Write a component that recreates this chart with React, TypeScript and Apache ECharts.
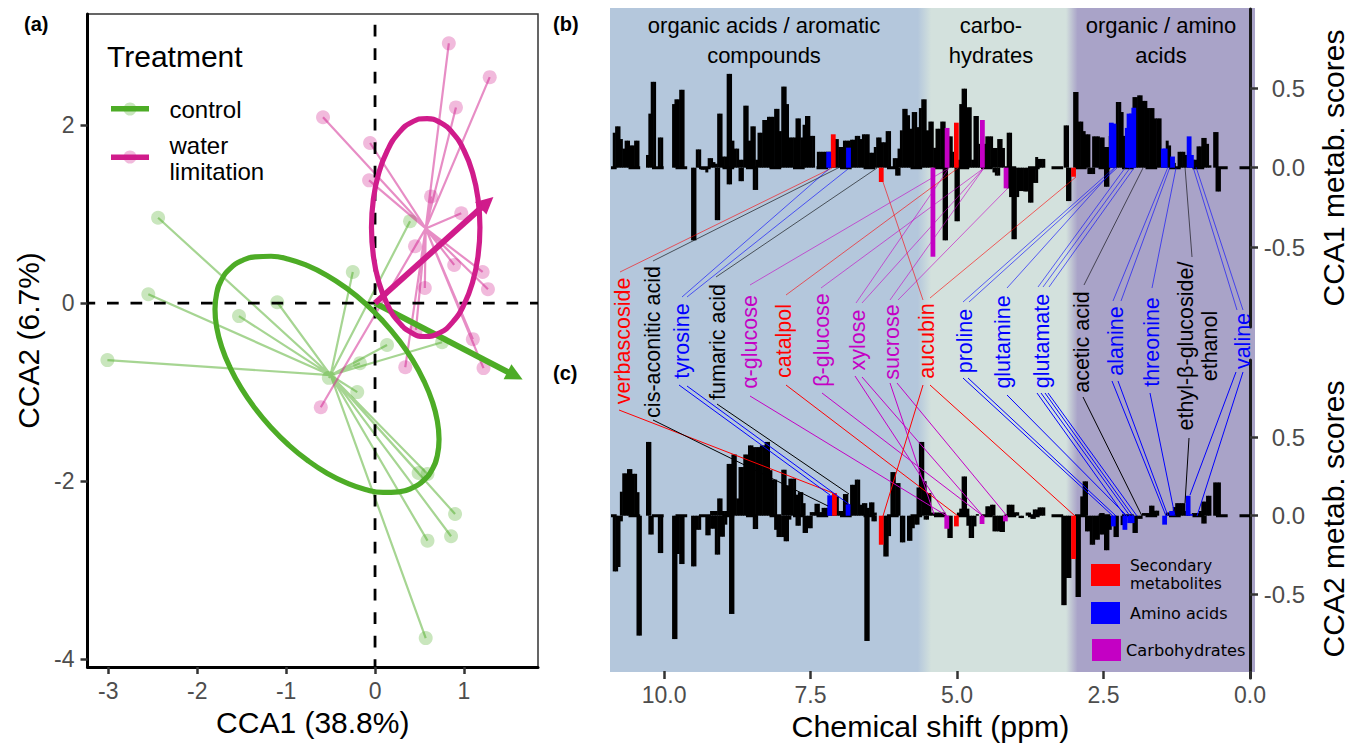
import React, { useEffect, useRef } from "react";
import * as echarts from "echarts";

const SANS = "'Liberation Sans', Arial, sans-serif";
const GREEN = "#4DAC26";
const PINK = "#D01C8B";
const RED = "#ff0000";
const BLUE = "#0000ff";
const MAGENTA = "#c400c4";
const BLACK = "#000000";

// ---------- panel (a): CCA ordination ----------
const waterPoints = [
  [0.83, 2.92], [1.29, 2.54], [0.91, 2.2], [-0.585, 2.09], [-0.056, 1.8], [-0.067, 1.38],
  [0.63, 1.2], [0.97, 1.01], [0.45, 0.64], [0.89, 0.43], [1.21, 0.35], [1.27, 0.157],
  [0.56, 0.17], [1.1, -0.405], [0.34, -0.72], [1.22, -0.73], [-0.61, -1.17], [0.46, -0.3],
];
const waterCentroid = [0.57, 0.84];
const controlPoints = [
  [-2.44, 0.96], [-2.55, 0.1], [-3.01, -0.64], [-1.53, -0.146], [-1.1, 0.01], [-0.25, 0.35],
  [0.394, 0.92], [0.135, -0.47], [0.754, -0.44], [-0.17, -0.675], [-0.52, -0.84], [-0.2, -1.0],
  [0.49, -1.91], [0.59, -1.92], [0.9, -2.37], [0.855, -2.62], [0.59, -2.67], [0.57, -3.765],
];
const controlCentroid = [-0.5, -0.81];
const waterEllipse = [
  [1.18, 0.85], [1.159, 1.167], [1.098, 1.4625], [1.001, 1.716], [0.875, 1.911], [0.728, 2.033],
  [0.585, 2.075], [0.412, 2.033], [0.265, 1.911], [0.139, 1.716], [0.042, 1.4625], [-0.019, 1.167],
  [-0.04, 0.85], [-0.019, 0.533], [0.042, 0.2375], [0.139, -0.016], [0.265, -0.211], [0.412, -0.333],
  [0.555, -0.375], [0.728, -0.333], [0.875, -0.211], [1.001, -0.016], [1.098, 0.2375], [1.159, 0.533],
  [1.18, 0.85],
];
const controlEllipse = [
  [0.72, -1.53], [0.701, -1.326], [0.644, -1.106], [0.551, -0.877], [0.425, -0.644], [0.27, -0.418],
  [0.09, -0.203], [-0.109, -0.005], [-0.321, 0.168], [-0.54, 0.312], [-0.759, 0.421], [-0.971, 0.494],
  [-1.17, 0.527], [-1.35, 0.521], [-1.505, 0.474], [-1.631, 0.388], [-1.724, 0.267], [-1.781, 0.112],
  [-1.8, -0.07], [-1.781, -0.273], [-1.724, -0.494], [-1.631, -0.723], [-1.505, -0.956], [-1.35, -1.182],
  [-1.17, -1.397], [-0.971, -1.595], [-0.759, -1.768], [-0.54, -1.912], [-0.321, -2.021], [-0.109, -2.094],
  [0.09, -2.127], [0.27, -2.121], [0.425, -2.074], [0.551, -1.988], [0.644, -1.867], [0.701, -1.712],
  [0.72, -1.53],
];
const waterArrowTip = [1.26, 1.13];
const controlArrowTip = [1.575, -0.815];
const aXTicks = [-3, -2, -1, 0, 1];
const aYTicks = [-4, -2, 0, 2];

// ---------- panels (b), (c): scores, one value per spectral bin from the downfield end ----------
const bPositive = [
  0, .22, .26, .26, .18, .12, .17, .17, .14, .14,
  .17, .17, 0, 0, 0, .08, .34, .54, .54, 0,
  .19, .19, 0, 0, 0, 0, .40, .43, .43, .49,
  .49, 0, 0, 0, 0, 0, .115, .115, 0, 0,
  0, .06, .06, .035, .025, .34, .34, .07, .07, .59,
  .59, .17, .12, .12, .05, .05, .39, .39, .17, .26,
  .26, .05, .22, .22, .30, .30, .32, .32, .32, .37,
  .37, .23, .51, .51, .40, .19, .19, .19, .31, .31,
  .19, .27, .325, .325, .20, .20, 0, .10, .10, .10,
  .10, .10, .10, .18, .18, .18, .13, .13, .17, .17,
  .17, .176, .176, .20, .20, .18, .21, .21, .21, .094,
  .094, .13, .19, .19, .16, .16, .23, .23, 0, .06,
  .06, .12, .235, .37, .37, .33, .245, .35, .35, .255,
  .375, .43, .43, .235, .29, .29, .125, .245, .245, .29,
  .29, .20, .197, .197, .10, .10, .05, .40, .497, .497,
  .38, .38, .05, .325, .325, .15, .15, .15, .197, .197,
  .197, .124, .124, .18, .18, .124, 0, .22, .22, 0,
  0, 0, 0, 0, 0, 0, 0, 0, 0, .067,
  .055, .055, .055, 0, 0, 0, 0, 0, 0, 0,
  0, .266, .266, 0, 0, .476, .476, .29, .29, .23,
  .21, .21, 0, .197, .197, .197, .19, .19, .13, .13,
  .2, .2, .2, .413, .413, .35, .2, .2, .3, .3,
  .444, .444, .455, .455, .42, .42, .375, .375, .375, .31,
  .31, .31, .1, .1, .17, .14, .04, .03, 0, .10,
  .10, .10, .08, .08, .08, .05, .05, .134, .134, .187,
  .187, .15, .015, 0, .224, .224, 0, 0, 0, 0,
  0, 0, 0, 0, 0, 0, 0, 0, 0, 0,
];
const bNegative = [
  0, 0, 0, 0, 0, 0, 0, 0, 0, 0,
  0, 0, 0, 0, 0, 0, 0, 0, 0, 0,
  0, 0, 0, 0, 0, 0, 0, 0, 0, 0,
  0, 0, 0, 0, -.457, -.457, 0, 0, -.013, -.013,
  -.03, 0, 0, 0, -.33, -.33, 0, 0, 0, -.105,
  -.105, 0, 0, 0, -.085, -.085, 0, 0, 0, 0,
  -.14, -.14, 0, 0, 0, 0, 0, 0, 0, 0,
  0, 0, 0, 0, 0, 0, 0, 0, 0, 0,
  0, 0, 0, 0, 0, 0, 0, 0, 0, 0,
  0, 0, 0, 0, 0, 0, 0, 0, 0, 0,
  0, 0, 0, 0, 0, 0, 0, 0, 0, 0,
  0, 0, 0, 0, 0, 0, 0, 0, 0, 0,
  -.05, -.05, 0, 0, 0, 0, 0, 0, 0, 0,
  0, 0, 0, 0, 0, 0, 0, 0, 0, 0,
  -.457, -.457, 0, 0, 0, -.337, -.337, 0, 0, 0,
  0, 0, 0, 0, 0, 0, 0, 0, 0, 0,
  0, -.03, -.05, -.05, 0, 0, 0, -.13, -.185, -.45,
  -.45, -.185, -.147, -.147, -.15, -.15, -.22, -.22, -.096, -.096,
  0, 0, 0, 0, 0, 0, 0, 0, 0, 0,
  0, 0, -.21, -.21, 0, 0, 0, 0, 0, 0,
  0, -.04, -.04, -.04, 0, 0, 0, 0, -.12, -.12,
  0, 0, 0, 0, 0, 0, 0, 0, 0, 0,
  0, 0, 0, 0, 0, 0, 0, 0, 0, 0,
  0, 0, 0, 0, 0, 0, 0, 0, 0, 0,
  0, 0, 0, 0, 0, 0, 0, 0, 0, 0,
  0, 0, 0, 0, 0, -.15, -.15, 0, 0, 0,
  0, 0, 0, 0, 0, 0, 0, 0, 0, 0,
];
const cPositive = [
  0, 0, 0, 0, .153, .27, .27, .297, .297, .267,
  .267, .15, 0, 0, 0, .47, .47, 0, 0, 0,
  0, 0, 0, 0, 0, 0, 0, 0, 0, 0,
  0, 0, 0, 0, 0, 0, 0, 0, 0, 0,
  0, 0, .03, .03, .03, .11, .11, .03, .03, .33,
  .33, .39, .39, .11, .31, .31, .39, .39, .448, .448,
  .437, .437, .437, .448, .448, .47, .47, .29, .23, .23,
  0, 0, .293, .293, .193, .236, .236, .236, .134, .15,
  .15, .08, 0, 0, .023, .023, .076, .076, .023, .05,
  .05, .05, .05, .1, .1, .123, .03, .03, .138, .138,
  .072, .197, .197, .23, .23, .07, .08, .08, .05, .085,
  .085, .02, 0, 0, 0, 0, 0, 0, .278, .278,
  .208, .208, 0, 0, 0, 0, 0, 0, 0, .18,
  .47, .47, .22, .144, .144, .02, .02, .02, .02, .02,
  .02, 0, 0, 0, 0, 0, .02, .045, .25, .25,
  .045, 0, 0, 0, .01, 0, 0, 0, .06, .06,
  .07, .07, 0, 0, 0, 0, 0, .07, .07, .07,
  .022, .022, 0, 0, 0, .02, .02, 0, .04, .04,
  .053, .053, .053, 0, 0, 0, 0, 0, 0, 0,
  0, 0, 0, 0, 0, 0, 0, 0, .123, .219,
  .219, 0, 0, 0, 0, 0, .017, .017, 0, 0,
  0, 0, 0, 0, 0, 0, 0, 0, 0, 0,
  0, 0, 0, 0, .017, .017, .017, .064, .064, .032,
  .032, 0, 0, 0, .02, .02, .03, .055, .08, .08,
  .08, .08, .03, .03, 0, .017, .017, .017, .03, .09,
  .09, .127, .127, 0, .212, .212, .212, 0, 0, 0,
  0, 0, 0, 0, 0, 0, 0, 0, 0, 0,
];
const cNegative = [
  0, -.355, -.355, -.327, -.036, 0, 0, 0, 0, 0,
  0, -.764, -.764, 0, 0, 0, -.12, -.12, 0, 0,
  -.238, -.238, 0, 0, 0, 0, -.786, -.786, -.244, -.308,
  -.308, 0, 0, 0, -.323, -.323, -.09, -.09, 0, 0,
  -.125, -.125, -.083, -.083, -.248, -.248, -.134, -.134, -.057, 0,
  -.626, -.626, 0, 0, 0, 0, 0, 0, 0, 0,
  -.085, -.085, 0, 0, 0, 0, 0, 0, 0, -.09,
  -.136, -.136, -.136, -.163, -.163, -.025, 0, 0, -.064, -.064,
  0, -.11, -.11, -.08, -.08, 0, 0, 0, 0, 0,
  0, 0, 0, 0, 0, 0, 0, 0, 0, 0,
  0, 0, 0, 0, 0, 0, 0, -.798, -.798, 0,
  -.036, -.036, 0, 0, 0, -.26, -.26, -.13, 0, 0,
  0, 0, -.17, -.17, 0, -.16, -.16, -.08, -.057, -.057,
  0, 0, -.025, -.025, 0, 0, 0, 0, 0, 0,
  0, 0, -.142, -.142, 0, 0, 0, 0, 0, 0,
  -.064, -.142, -.142, -.068, 0, 0, 0, 0, 0, 0,
  0, -.1, -.1, -.1, -.104, -.104, 0, 0, 0, 0,
  0, 0, -.015, -.015, 0, 0, 0, -.02, -.02, 0,
  0, 0, 0, 0, 0, 0, 0, 0, 0, 0,
  -.57, -.57, -.397, -.397, 0, 0, -.518, -.518, 0, 0,
  -.1, -.1, -.185, -.185, -.153, -.153, -.12, -.12, -.22, -.22,
  -.09, 0, -.136, -.136, 0, -.06, 0, 0, 0, 0,
  -.11, -.11, -.02, -.02, 0, 0, 0, 0, 0, 0,
  0, 0, 0, 0, 0, 0, 0, 0, 0, 0,
  0, 0, 0, 0, 0, 0, 0, 0, 0, -.05,
  -.05, 0, 0, 0, 0, 0, 0, 0, 0, 0,
  0, 0, 0, 0, 0, 0, 0, 0, 0, 0,
];

// assigned signals: [ppm, score]
const bSecondary = [[7.112, .21], [6.293, -.09], [5.011, .283], [3.011, -.057]];
const bAmino = [[7.19, .10], [6.852, .126], [2.367, .283], [2.322, .277], [2.094, .25], [2.064, .34], [2.023, .34],
  [1.983, .377], [1.479, .12], [1.447, .12], [1.322, .07], [1.039, .197], [1.0, .08]];
const bCarbo = [[5.411, -.56], [5.169, .25], [4.567, .30], [4.163, -.13]];
const cSecondary = [[7.092, .144], [6.293, -.185], [5.011, -.068], [3.011, -.276]];
const cAmino = [[7.173, .13], [6.859, .072], [2.333, -.068], [2.135, -.09], [2.054, -.047], [2.013, -.047],
  [1.457, -.057], [1.338, .03], [1.056, .127], [1.017, .01]];
const cCarbo = [[5.175, -.083], [4.573, -.053], [4.175, -.036]];

const shiftTicks = [0, 2.5, 5, 7.5, 10];
const scoreTicks = [-0.5, 0, 0.5];
const SHIFT_MAX = 10.905;

// ---------- metabolite labels between (b) and (c) ----------
const metabolites: [string, string, number, number][] = [
  ["verbascoside", RED, 623, 341], ["cis-aconitic acid", BLACK, 652.7, 342], ["tyrosine", BLUE, 681.7, 341],
  ["fumaric acid", BLACK, 718, 342], ["α-glucose", MAGENTA, 750, 342], ["catalpol", RED, 784, 341],
  ["β-glucose", MAGENTA, 821.7, 340], ["xylose", MAGENTA, 857.7, 340], ["sucrose", MAGENTA, 892, 342],
  ["aucubin", RED, 926.7, 341], ["proline", BLUE, 965, 341], ["glutamine", BLUE, 1003, 342],
  ["glutamate", BLUE, 1041.7, 341], ["acetic acid", BLACK, 1081.7, 342], ["alanine", BLUE, 1116, 341],
  ["threonine", BLUE, 1151.7, 342], ["ethyl-β-glucoside/\nethanol", BLACK, 1198, 346], ["valine", BLUE, 1243, 341],
];
const upperLeaders: [string, number, number, number, number][] = [
  [RED, 832, 168, 620, 272], [BLACK, 840, 167, 653, 261], [BLUE, 830, 168, 682, 297], [BLUE, 848, 169, 687, 297],
  [BLACK, 877, 168, 716, 277], [MAGENTA, 949, 168, 750, 285], [RED, 958, 168, 786, 295], [MAGENTA, 984, 168, 821, 288],
  [MAGENTA, 949, 168, 856, 303], [MAGENTA, 984, 168, 862, 303], [MAGENTA, 984, 168, 890, 300], [MAGENTA, 1008, 188, 898, 300],
  [RED, 883, 182, 923, 300], [RED, 1076, 177, 930, 298], [BLUE, 1114, 168, 963, 302], [BLUE, 1117, 168, 969, 302],
  [BLUE, 1115, 168, 1007, 288], [BLUE, 1125, 168, 1038, 287], [BLUE, 1130, 168, 1043, 287], [BLUE, 1134, 168, 1049, 287],
  [BLACK, 1143, 168, 1084, 285], [BLUE, 1168, 167, 1113, 301], [BLUE, 1170, 167, 1121, 301], [BLUE, 1176, 168, 1152, 288],
  [BLACK, 1185, 167, 1192, 257], [BLUE, 1193, 167, 1237, 310], [BLUE, 1196, 167, 1243, 310],
];
const lowerLeaders: [string, number, number, number, number][] = [
  [RED, 619, 410, 833, 493], [BLACK, 653, 420, 828, 506], [BLUE, 679, 385, 830, 495], [BLUE, 687, 386, 850, 505],
  [BLACK, 717, 404, 849, 494], [MAGENTA, 750, 396, 947, 516], [RED, 786, 385, 958, 516], [MAGENTA, 822, 393, 983, 516],
  [MAGENTA, 855, 376, 947, 516], [MAGENTA, 862, 377, 983, 516], [MAGENTA, 890, 383, 934, 514], [MAGENTA, 897, 383, 1007, 516],
  [RED, 923, 385, 883, 516], [RED, 930, 385, 1075, 516], [BLUE, 963, 378, 1113, 516], [BLUE, 968, 378, 1116, 516],
  [BLUE, 1007, 395, 1127, 516], [BLUE, 1037, 393, 1125, 516], [BLUE, 1041, 393, 1130, 516], [BLUE, 1045, 393, 1133, 516],
  [BLUE, 1048, 393, 1137, 516], [BLACK, 1083, 397, 1142, 516], [BLUE, 1112, 381, 1166, 516], [BLUE, 1118, 381, 1168, 516],
  [BLUE, 1150, 393, 1175, 516], [BLACK, 1189, 438, 1185, 503], [BLUE, 1236, 372, 1190, 495], [BLUE, 1243, 372, 1197, 516],
];

const bins = (values: number[]) => values.map((v, i) => [10.89 - 0.0405 * i, v]);
const spokes = (centre: number[], pts: number[][]) => pts.flatMap((p) => [centre, p]);

const text = (t: string, x: number, y: number, size: number, extra: any = {}) => ({
  type: "text", x, y, z: 20, silent: true,
  style: { text: t, font: `${extra.weight || "normal"} ${size}px ${extra.family || SANS}`, fill: extra.fill || "#000",
    textAlign: extra.align || "left", textVerticalAlign: "middle", lineHeight: extra.lineHeight },
  rotation: extra.rotation || 0,
});

export default function App() {
  const ref = useRef<HTMLDivElement>(null);
  useEffect(() => {
    document.body.style.margin = "0";
    const chart = echarts.init(ref.current!, undefined, { renderer: "svg" });

    const tickLabel = { color: "#4d4d4d", fontSize: 23, fontFamily: SANS };
    const hiddenShift = (gridIndex: number) => ({
      type: "value", gridIndex, min: 0, max: SHIFT_MAX, inverse: true, show: false, axisLine: { onZero: false },
    });
    const scoreAxis = (gridIndex: number, name: string, min: number, max: number) => ({
      type: "value", gridIndex, position: "right", min, max,
      splitLine: { show: false },
      axisLine: { show: true, onZero: false, lineStyle: { color: "#1a1a1a", width: 3 } },
      axisTick: { show: true, length: 8, customValues: scoreTicks, lineStyle: { color: "#333", width: 2.5 } },
      axisLabel: { ...tickLabel, fontSize: 24, margin: 55, align: "right", customValues: scoreTicks, formatter: (v: number) => v.toFixed(1) },
      name, nameLocation: "middle", nameRotate: 90, nameGap: 68,
      nameTextStyle: { fontSize: 30, fontFamily: SANS, color: "#000" },
    });
    const barSeries = (x: number, y: number, stack: string, data: any, color: string, barWidth: number) => ({
      type: "bar", xAxisIndex: x, yAxisIndex: y, stack, data, barWidth, itemStyle: { color }, silent: true, z: 3,
    });
    const zeroDash = (x: number, y: number) => ({
      type: "line", xAxisIndex: x, yAxisIndex: y, data: [[SHIFT_MAX, 0], [0, 0]], symbol: "none", silent: true, z: 2,
      lineStyle: { color: "#000", width: 3, type: [11.7, 11.8], dashOffset: 5.7 },
    });
    const aLine = (data: any, color: string, width: number, opacity = 1, extra: any = {}) => ({
      type: "line", xAxisIndex: 0, yAxisIndex: 0, data, symbol: "none", silent: true,
      lineStyle: { color, width, opacity, ...(extra.lineStyle || {}) }, ...(extra.series || {}),
    });
    const arrow = (tip: number[], color: string) => ({
      type: "line", xAxisIndex: 0, yAxisIndex: 0, data: [], silent: true, z: 6,
      markLine: {
        silent: true, animation: false, symbol: ["none", "triangle"], symbolSize: 17, label: { show: false },
        lineStyle: { color, width: 6, type: "solid", opacity: 1 }, itemStyle: { color },
        emphasis: { disabled: true },
        data: [[{ coord: [0, 0] }, { coord: tip }]],
      },
    });

    const leader = (list: any[], opacity: number) => list.map(([c, x1, y1, x2, y2]) => ({
      type: "line", z: 15, silent: true, shape: { x1, y1, x2, y2 }, style: { stroke: c, lineWidth: 1, opacity },
    }));

    chart.setOption({
      animation: false,
      grid: [
        { left: 87.5, top: 14, width: 450.5, height: 653, show: true, borderColor: "#333", borderWidth: 1.5, backgroundColor: "transparent" },
        { left: 611, top: 9, width: 643, height: 318 },
        { left: 611, top: 360, width: 643, height: 318 },
      ],
      xAxis: [
        {
          type: "value", gridIndex: 0, min: -3.234, max: 1.833, splitLine: { show: false },
          axisLine: { onZero: false, lineStyle: { color: "#000", width: 3 } },
          axisTick: { length: 7, customValues: aXTicks, lineStyle: { color: "#333", width: 2.5 } },
          axisLabel: { ...tickLabel, margin: 12, customValues: aXTicks },
          name: "CCA1 (38.8%)", nameLocation: "middle", nameGap: 40,
          nameTextStyle: { fontSize: 30, fontFamily: SANS, color: "#000" },
        },
        hiddenShift(1), hiddenShift(1),
        {
          type: "value", gridIndex: 2, min: 0, max: SHIFT_MAX, inverse: true, splitLine: { show: false }, offset: -7,
          axisLine: { show: false, onZero: false },
          axisTick: { show: true, length: 8, customValues: shiftTicks, lineStyle: { color: "#333", width: 2.5 } },
          axisLabel: { ...tickLabel, margin: 12, customValues: shiftTicks, formatter: (v: number) => v.toFixed(1) },
          name: "Chemical shift (ppm)", nameLocation: "middle", nameGap: 40,
          nameTextStyle: { fontSize: 30.3, fontFamily: SANS, color: "#000" },
        },
        hiddenShift(2),
      ],
      yAxis: [
        {
          type: "value", gridIndex: 0, min: -4.09, max: 3.25, splitLine: { show: false },
          axisLine: { onZero: false, lineStyle: { color: "#000", width: 3 } },
          axisTick: { length: 7, customValues: aYTicks, lineStyle: { color: "#333", width: 2.5 } },
          axisLabel: { ...tickLabel, margin: 13, customValues: aYTicks },
          name: "CCA2 (6.7%)", nameLocation: "middle", nameRotate: 90, nameGap: 44,
          nameTextStyle: { fontSize: 30, fontFamily: SANS, color: "#000" },
        },
        scoreAxis(1, "CCA1 metab. scores", -1.002, 0.998),
        scoreAxis(2, "CCA2 metab. scores", -1.034, 0.992),
      ],
      series: [
        aLine(spokes(controlCentroid, controlPoints), GREEN, 2.2, 0.5),
        aLine(spokes(waterCentroid, waterPoints), PINK, 2.2, 0.5),
        { type: "scatter", xAxisIndex: 0, yAxisIndex: 0, data: controlPoints, symbolSize: 14, silent: true,
          itemStyle: { color: GREEN, opacity: 0.3 } },
        { type: "scatter", xAxisIndex: 0, yAxisIndex: 0, data: waterPoints, symbolSize: 14, silent: true,
          itemStyle: { color: PINK, opacity: 0.3 } },
        aLine([[0, -4.09], [0, 3.25]], "#000", 2.8, 1, { lineStyle: { type: [11.7, 11.8], dashOffset: 4 }, series: { z: 4 } }),
        aLine([[-3.234, 0], [1.833, 0]], "#000", 2.8, 1, { lineStyle: { type: [11.7, 11.8], dashOffset: 4 }, series: { z: 4 } }),
        aLine(controlEllipse, GREEN, 5.2, 1, { series: { smooth: true, z: 5 } }),
        aLine(waterEllipse, PINK, 5.2, 1, { series: { smooth: true, z: 5 } }),
        arrow(controlArrowTip, GREEN),
        arrow(waterArrowTip, PINK),

        zeroDash(1, 1),
        barSeries(1, 1, "b", bins(bPositive), "#000", 3),
        barSeries(1, 1, "b", bins(bNegative), "#000", 3),
        barSeries(2, 1, "bm", bSecondary, RED, 4.8),
        barSeries(2, 1, "bm", bAmino, BLUE, 4.8),
        barSeries(2, 1, "bm", bCarbo, MAGENTA, 4.8),

        zeroDash(3, 2),
        barSeries(3, 2, "c", bins(cPositive), "#000", 3),
        barSeries(3, 2, "c", bins(cNegative), "#000", 3),
        barSeries(4, 2, "cm", cSecondary, RED, 4.8),
        barSeries(4, 2, "cm", cAmino, BLUE, 4.8),
        barSeries(4, 2, "cm", cCarbo, MAGENTA, 4.8),
      ],
      graphic: [
        {
          type: "rect", z: -1, silent: true, shape: { x: 610, y: 8, width: 645, height: 664 },
          style: {
            fill: new echarts.graphic.LinearGradient(0, 0, 1, 0, [
              { offset: 0, color: "#b4c7dc" }, { offset: 0.477, color: "#b4c7dc" },
              { offset: 0.498, color: "#d3e1dd" }, { offset: 0.707, color: "#d3e1dd" },
              { offset: 0.725, color: "#a9a3c8" }, { offset: 1, color: "#a9a3c8" },
            ]),
          },
        },
        ...leader(upperLeaders, 0.6),
        ...leader(lowerLeaders, 1),
        text("(a)", 24, 24, 20, { weight: "bold" }),
        text("(b)", 553, 24, 20, { weight: "bold" }),
        text("(c)", 553, 373, 20, { weight: "bold" }),
        text("Treatment", 107, 56, 30),
        { type: "rect", z: 20, silent: true, shape: { x: 111, y: 106, width: 38, height: 5.5 }, style: { fill: GREEN } },
        { type: "circle", z: 20, silent: true, shape: { cx: 130, cy: 109, r: 6.5 }, style: { fill: GREEN, opacity: 0.3 } },
        { type: "rect", z: 20, silent: true, shape: { x: 111, y: 154.5, width: 38, height: 5.5 }, style: { fill: PINK } },
        { type: "circle", z: 20, silent: true, shape: { cx: 130, cy: 157, r: 6.5 }, style: { fill: PINK, opacity: 0.3 } },
        text("control", 169.5, 109, 24),
        text("water", 169.5, 145, 24),
        text("limitation", 169.5, 171, 24),
        text("organic acids / aromatic", 764, 25, 22, { align: "center" }),
        text("compounds", 764, 55, 22, { align: "center" }),
        text("carbo-", 991, 25, 22, { align: "center" }),
        text("hydrates", 991, 55, 22, { align: "center" }),
        text("organic / amino", 1161, 25, 22, { align: "center" }),
        text("acids", 1161, 55, 22, { align: "center" }),
        ...metabolites.map(([t, c, x, y]) =>
          text(t, x, y, 21.5, { fill: c, align: "center", rotation: Math.PI / 2, lineHeight: 24 })),
        { type: "rect", z: 20, silent: true, shape: { x: 1091, y: 564, width: 29, height: 22 }, style: { fill: RED } },
        { type: "rect", z: 20, silent: true, shape: { x: 1091, y: 602, width: 29, height: 22 }, style: { fill: BLUE } },
        { type: "rect", z: 20, silent: true, shape: { x: 1092, y: 639, width: 29, height: 22 }, style: { fill: MAGENTA } },
        text("Secondary", 1130, 566, 15.5, { family: "'DejaVu Sans', sans-serif" }),
        text("metabolites", 1130, 584, 15.5, { family: "'DejaVu Sans', sans-serif" }),
        text("Amino acids", 1130, 613, 16, { family: "'DejaVu Sans', sans-serif" }),
        text("Carbohydrates", 1126, 650, 16.2, { family: "'DejaVu Sans', sans-serif" }),
      ],
    });
    return () => chart.dispose();
  }, []);
  return <div ref={ref} style={{ position: "fixed", left: 0, top: 0, width: 1349, height: 744, background: "#fff" }} />;
}
